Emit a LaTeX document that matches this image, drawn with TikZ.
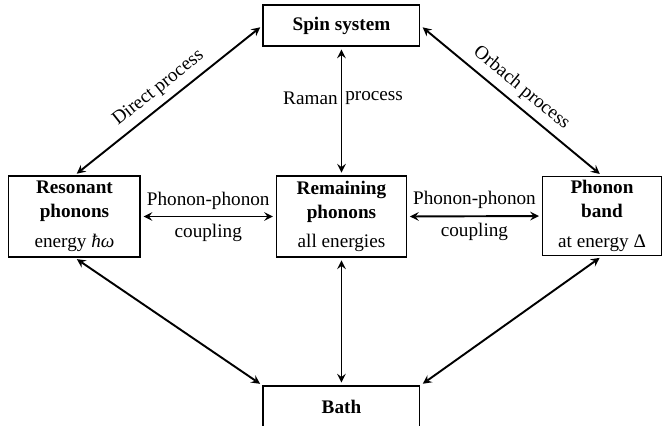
\documentclass[tikz,border=0pt]{standalone}
\usepackage{fontspec}
\setmainfont{Liberation Serif}
\usepackage{amsmath,amssymb}
\usepackage{tikz}
\usetikzlibrary{arrows, positioning}

\begin{document}
\begin{tikzpicture}[
    box/.style={draw, line width=0.6pt, align=center, inner sep=2pt,
                font=\fontsize{10}{12.5}\selectfont},
    arr/.style={line width=1pt, <->, >=stealth, shorten >=1.5pt, shorten <=1.5pt,
                font=\fontsize{10}{12}\selectfont}
]
\useasboundingbox (0,0) rectangle (12.115,-7.796);

\node[box, minimum width=2.87cm, minimum height=0.75cm] (spin) at (6.249,-0.467)
    {\textbf{Spin system}};

\node[box, minimum width=2.40cm, minimum height=1.48cm] (res) at (1.363,-3.962)
    {\textbf{Resonant}\\ \textbf{phonons}\\[3pt] energy \textit{ħω}};

\node[box, minimum width=2.38cm, minimum height=1.48cm] (rem) at (6.249,-3.962)
    {\textbf{Remaining}\\ \textbf{phonons}\\[3pt] all energies};

\node[box, minimum width=2.18cm, minimum height=1.45cm] (band) at (11.017,-3.953)
    {\textbf{Phonon}\\ \textbf{band}\\[3pt] at energy Δ};

\node[box, minimum width=2.87cm, minimum height=0.75cm] (bath) at (6.249,-7.439)
    {\textbf{Bath}};

% spin-lattice processes
\draw[arr] (res.north) -- node[sloped, above]{Direct process} (spin.west);
\draw[arr] (spin.east) -- node[sloped, above]{Orbach process} (band.north);
\draw[arr] (spin.south) -- node[pos=0.4, left, inner sep=1.5pt]{Raman}
    node[pos=0.4, right, inner sep=1.5pt]{process} (rem.north);

\draw[arr] (res.east) -- node[above]{Phonon-phonon} node[below]{coupling} (rem.west);
\draw[arr] (rem.east) -- node[above]{Phonon-phonon} node[below]{coupling} (band.west);

% to the bath
\draw[arr] (res.south) -- (bath.north west);
\draw[arr] (rem.south) -- (bath.north);
\draw[arr] (band.south) -- (bath.north east);
\end{tikzpicture}
\end{document}
